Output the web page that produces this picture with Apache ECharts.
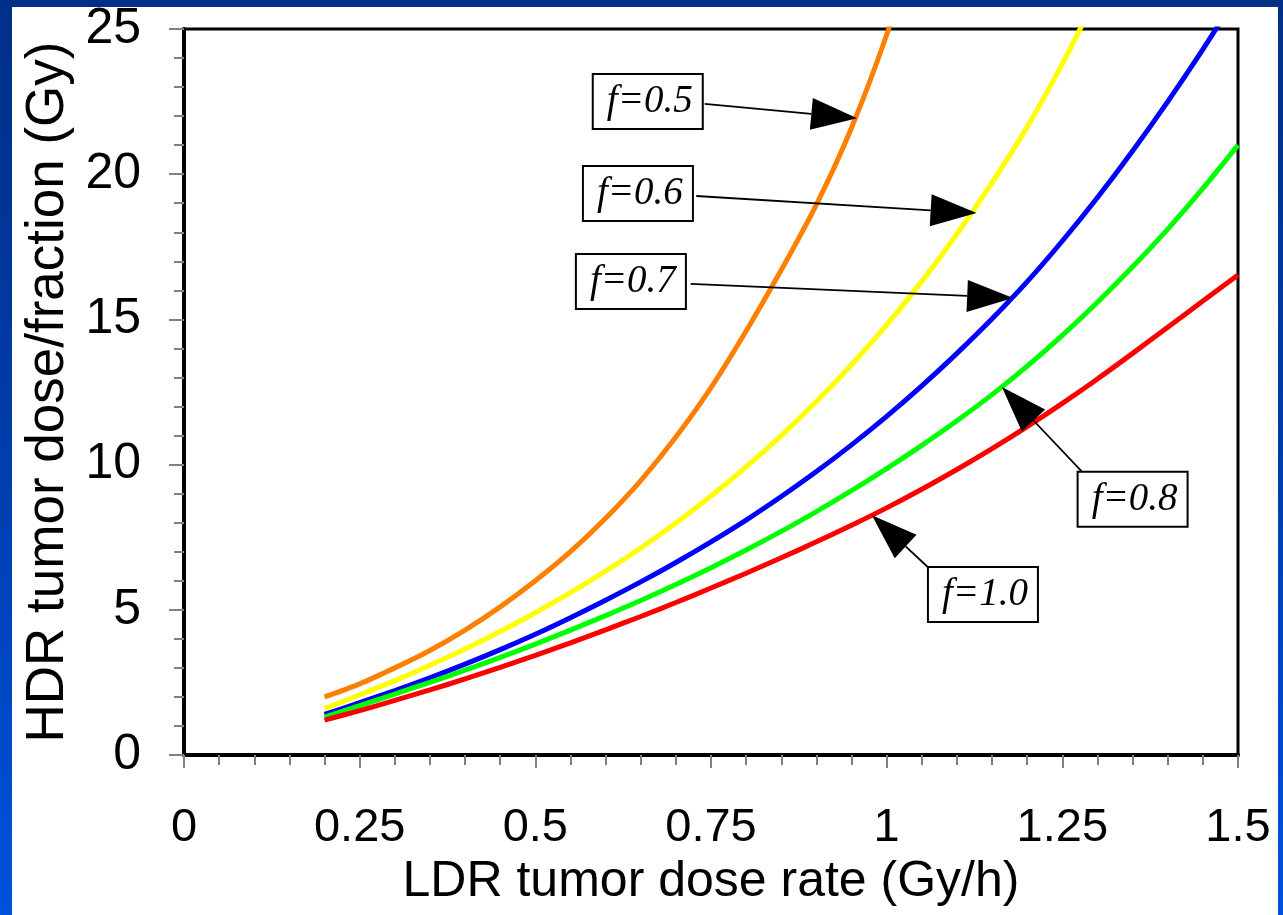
<!DOCTYPE html>
<html>
<head>
<meta charset="utf-8">
<script src="https://cdn.jsdelivr.net/npm/echarts@6/dist/echarts.min.js"></script>
<style>
  html, body { margin: 0; padding: 0; width: 1283px; height: 915px; overflow: hidden; }
  body { background: linear-gradient(to bottom, #002f86 0%, #003ba8 45%, #0052dc 100%); position: relative; }
  #paper { position: absolute; left: 12px; top: 7px; width: 1266px; height: 908px; background: #fff; }
  #chart { position: absolute; left: 0; top: 0; width: 1283px; height: 915px; }
</style>
</head>
<body>
<div id="paper"></div>
<div id="chart"></div>
<script>
// LDR dose rate (Gy/h), shared by every curve
const ldrRate = [0.2, 0.25, 0.3, 0.35, 0.4, 0.45, 0.5, 0.55, 0.6, 0.65, 0.7, 0.75, 0.8,
  0.85, 0.9, 0.95, 1.0, 1.05, 1.1, 1.15, 1.2, 1.25, 1.3, 1.35, 1.4, 1.45, 1.5];

// HDR dose per fraction (Gy) for each f value
const doseF05 = [2.0, 2.45, 3.0, 3.6, 4.3, 5.1, 6.0, 7.0, 8.15, 9.45, 10.95, 12.65, 14.6,
  16.7, 18.95, 21.6, 24.8, 28.6];
const doseF06 = [1.6, 2.07, 2.56, 3.09, 3.65, 4.25, 4.9, 5.59, 6.33, 7.13, 7.99, 8.92, 9.92,
  11.0, 12.17, 13.44, 14.81, 16.31, 17.94, 19.71, 21.63, 23.8, 26.2];
const doseF07 = [1.4, 1.8, 2.22, 2.66, 3.13, 3.63, 4.16, 4.73, 5.33, 5.96, 6.63, 7.34, 8.09,
  8.9, 9.76, 10.68, 11.66, 12.71, 13.83, 15.02, 16.3, 17.7, 19.2, 20.8, 22.5, 24.3, 26.2];
const doseF08 = [1.3, 1.7, 2.1, 2.5, 2.92, 3.36, 3.82, 4.3, 4.8, 5.32, 5.87, 6.45, 7.06,
  7.7, 8.38, 9.1, 9.86, 10.66, 11.51, 12.41, 13.39, 14.45, 15.59, 16.81, 18.11, 19.51, 21.0];
const doseF10 = [1.2, 1.53, 1.88, 2.24, 2.62, 3.02, 3.43, 3.86, 4.31, 4.77, 5.25, 5.75, 6.26,
  6.79, 7.34, 7.91, 8.51, 9.15, 9.83, 10.55, 11.31, 12.11, 12.95, 13.83, 14.73, 15.63, 16.53];

const seriesNames = ["f=0.5", "f=0.6", "f=0.7", "f=0.8", "f=1.0"];
const seriesColors = ["#ff8000", "#ffff00", "#0000ff", "#00ff00", "#ff0000"];
const seriesDose = [doseF05, doseF06, doseF07, doseF08, doseF10];

// callouts: label, box centre, arrow tail and tip (all in data coords)
const calloutText = ["f=0.5", "f=0.6", "f=0.7", "f=0.8", "f=1.0"];
const calloutBox = [[0.660, 22.52], [0.646, 19.35], [0.636, 16.32], [1.350, 8.82], [1.137, 5.54]];
const calloutTail = [[0.741, 22.42], [0.729, 19.25], [0.721, 16.22], [1.289, 9.47], [1.060, 6.44]];
const calloutTip = [[0.958, 21.93], [1.128, 18.66], [1.180, 15.74], [1.164, 12.67], [0.979, 8.26]];

const xTicks = [0, 0.25, 0.5, 0.75, 1, 1.25, 1.5];
const yTicks = [0, 5, 10, 15, 20, 25];

const sansFont = "'Liberation Sans', Arial, sans-serif";

const chart = echarts.init(document.getElementById("chart"));

const option = {
  animation: false,
  backgroundColor: "transparent",
  grid: {
    left: 184,
    right: 45,
    top: 29,
    bottom: 160,
    show: true,
    backgroundColor: "#fff",
    borderColor: "#000",
    borderWidth: 3,
  },
  xAxis: {
    type: "value",
    min: xTicks[0],
    max: xTicks[xTicks.length - 1],
    interval: 0.25,
    name: "LDR tumor dose rate (Gy/h)",
    nameLocation: "middle",
    nameGap: 95,
    nameTextStyle: { color: "#000", fontSize: 50, fontFamily: sansFont },
    axisLine: { lineStyle: { color: "#000", width: 4 } },
    axisTick: { show: true, length: 13, lineStyle: { color: "#808080", width: 2 } },
    minorTick: { show: true, splitNumber: 5, length: 10, lineStyle: { color: "#808080", width: 2 } },
    splitLine: { show: false },
    axisLabel: {
      color: "#000",
      fontSize: 47,
      fontFamily: sansFont,
      margin: 50,
      formatter: (v) => String(v),
    },
  },
  yAxis: {
    type: "value",
    min: yTicks[0],
    max: yTicks[yTicks.length - 1],
    interval: 5,
    name: "HDR tumor dose/fraction (Gy)",
    nameLocation: "middle",
    nameGap: 88,
    nameTextStyle: { color: "#000", fontSize: 53, fontFamily: sansFont },
    axisLine: { lineStyle: { color: "#000", width: 4 } },
    axisTick: { show: true, length: 15, lineStyle: { color: "#808080", width: 2 } },
    minorTick: { show: true, splitNumber: 5, length: 10, lineStyle: { color: "#808080", width: 2 } },
    splitLine: { show: false },
    axisLabel: { color: "#000", fontSize: 50, fontFamily: sansFont, margin: 43 },
  },
  series: seriesNames.map((name, i) => ({
    name: name,
    type: "line",
    smooth: 0.3,
    symbol: "none",
    clip: true,
    lineStyle: { color: seriesColors[i], width: 5 },
    data: seriesDose[i].map((d, k) => [ldrRate[k], d]),
  })),
};
chart.setOption(option);

// callout boxes and arrows, placed through the axes
const drawCallouts = () => {
  const elements = [];
  calloutText.forEach((txt, i) => {
    const box = chart.convertToPixel({ gridIndex: 0 }, calloutBox[i]);
    const tail = chart.convertToPixel({ gridIndex: 0 }, calloutTail[i]);
    const tip = chart.convertToPixel({ gridIndex: 0 }, calloutTip[i]);
    const dx = tip[0] - tail[0];
    const dy = tip[1] - tail[1];
    const len = Math.sqrt(dx * dx + dy * dy);
    const ux = dx / len;
    const uy = dy / len;
    const headLen = 46;
    const headHalf = 16;
    const bx = tip[0] - ux * headLen;
    const by = tip[1] - uy * headLen;
    elements.push({
      type: "line",
      z: 100,
      shape: { x1: tail[0], y1: tail[1], x2: bx, y2: by },
      style: { stroke: "#000", lineWidth: 1.8 },
    });
    elements.push({
      type: "polygon",
      z: 100,
      shape: {
        points: [
          [tip[0], tip[1]],
          [bx - uy * headHalf, by + ux * headHalf],
          [bx + uy * headHalf, by - ux * headHalf],
        ],
      },
      style: { fill: "#000" },
    });
    elements.push({
      type: "rect",
      z: 100,
      shape: { x: box[0] - 55, y: box[1] - 27, width: 110, height: 55 },
      style: { fill: "#fff", stroke: "#000", lineWidth: 2 },
    });
    elements.push({
      type: "text",
      z: 101,
      x: box[0] + 2,
      y: box[1] + 1,
      style: {
        text: txt,
        fill: "#000",
        font: "italic 39px 'Liberation Serif', 'DejaVu Serif', serif",
        align: "center",
        verticalAlign: "middle",
      },
    });
  });
  chart.setOption({ graphic: { elements: elements } });
};
drawCallouts();
</script>
</body>
</html>
